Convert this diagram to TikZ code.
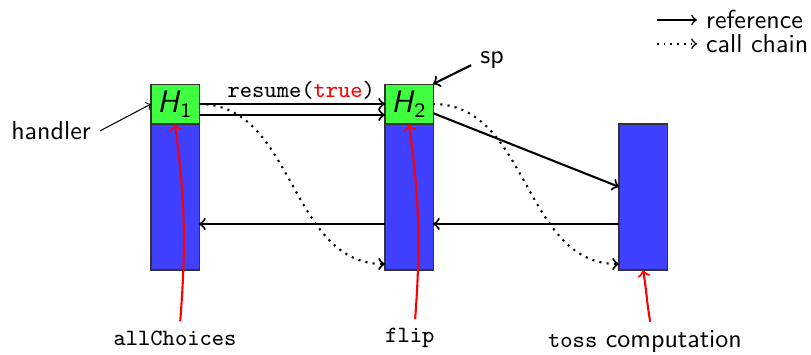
\documentclass[tikz,border=0pt]{standalone}
\usetikzlibrary{positioning}
\definecolor{handgreen}{RGB}{64,255,64}
\definecolor{stackblue}{RGB}{64,64,255}

\begin{document}
\begin{tikzpicture}[font=\sffamily,
    frame/.style={draw=black!80, fill=stackblue, minimum width=0.65cm,
      minimum height=1.975cm, inner sep=0pt, outer sep=0pt},
    hbox/.style={draw=black!80, fill=handgreen, minimum width=0.65cm,
      minimum height=0.541cm, inner sep=0pt, outer sep=0pt, font=\sffamily\large},
    ref/.style={->, thick},
    chain/.style={->, thick, dotted},
    pointer/.style={->, thick, red},
    code/.style={font=\ttfamily\small}]
    \useasboundingbox (-2.043,-1.137) rectangle (8.930,3.653);

    % Stacks and handler frames
    \node[frame, anchor=south west] (sAll) at (0,0) {};
    \node[frame, right=2.516cm of sAll] (sFlip) {};
    \node[frame, right=2.516cm of sFlip] (sToss) {};
    \node[hbox, above=0pt of sAll] (hOne) {\textit{H}\textsubscript{1}};
    \node[hbox, above=0pt of sFlip] (hTwo) {\textit{H}\textsubscript{2}};

    % References
    \draw[ref] (hOne.east) -- node[above, pos=0.55, inner sep=1.5pt, code]{resume(\textcolor{red}{true})} (hTwo.west);
    \draw[ref] ([yshift=-4.2pt]hOne.east) -- ([yshift=-4.2pt]hTwo.west);
    \draw[ref] ([yshift=-3.5pt]hTwo.east) -- ([yshift=3.9pt]sToss.west);
    \draw[ref] ([yshift=17.7pt]sToss.south west) -- ([yshift=17.7pt]sFlip.south east);
    \draw[ref] ([yshift=17.7pt]sFlip.south west) -- ([yshift=17.7pt]sAll.south east);

    % Call chain
    \draw[chain] (hOne.east) to[out=0, in=180] ([yshift=2.3pt]sFlip.south west);
    \draw[chain] (hTwo.east) to[out=0, in=180] ([yshift=2.3pt]sToss.south west);

    % Labels
    \node (handler) at (-1.353,1.881) {handler};
    \draw[->] (handler.east) -- (hOne.west);
    \node (sp) at (4.614,2.841) {sp};
    \draw[->, thick] ([yshift=-2pt]sp.west) -- (hTwo.north east);

    \node[code] (lAll) at (0.325,-0.92) {allChoices};
    \node[code] (lFlip) at (3.504,-0.92) {flip};
    \node (lToss) at (6.684,-0.974) {\texttt{\small toss} computation};
    \draw[pointer] ([xshift=2pt]lAll.north) to[bend right=6] (hOne.south);
    \draw[pointer] ([xshift=2pt]lFlip.north) to[bend right=6] (hTwo.south);
    \draw[pointer] ([xshift=2pt]lToss.north) to[out=100, in=-80] (sToss.south);

    % Legend
    \node[anchor=west] (lgRef) at (7.387,3.383) {reference};
    \node[anchor=west] (lgChain) at (7.387,3.06) {call chain};
    \coordinate (lgRefStart) at (6.846,3.383);
    \coordinate (lgChainStart) at (6.846,3.06);
    \draw[->, semithick] (lgRefStart) -- (lgRef.west);
    \draw[->, semithick, dotted] (lgChainStart) -- (lgChain.west);
\end{tikzpicture}
\end{document}
